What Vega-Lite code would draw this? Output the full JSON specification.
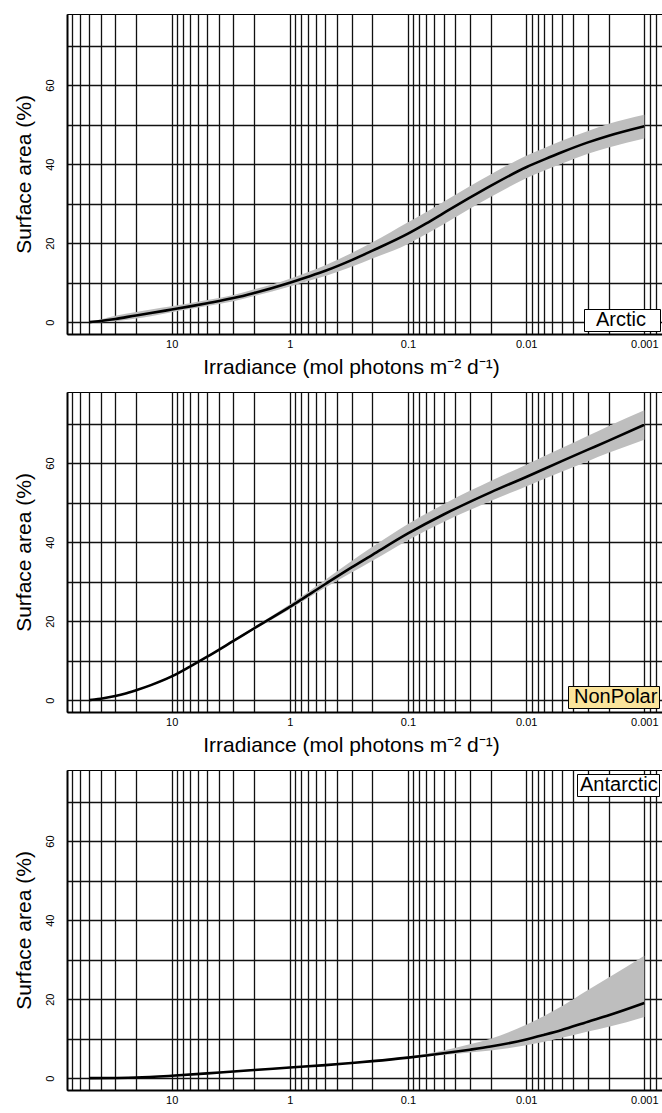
{
  "$schema": "https://vega.github.io/schema/vega-lite/v6.json",
  "padding": {"left": 12, "top": 13, "right": 0, "bottom": 0},
  "spacing": 58,
  "bounds": "flush",
  "resolve": {"scale": {"color": "independent"}, "legend": {"color": "independent"}},
  "config": {
    "font": "Liberation Sans",
    "view": {"stroke": "black", "strokeWidth": 1},
    "axis": {
      "domainColor": "black", "domainWidth": 2, "grid": true, "gridColor": "#111111",
      "gridOpacity": 1, "gridWidth": 1.3, "ticks": false, "tickSize": 0,
      "labelColor": "black", "labelFontSize": 11, "titleFontSize": 21,
      "titleFontWeight": "normal", "titleColor": "black",
      "labelFont": "Liberation Sans", "titleFont": "Liberation Sans"
    },
    "legend": {
      "title": null, "strokeColor": "black", "fillColor": "white", "padding": 1,
      "symbolType": "square", "symbolSize": 0, "symbolOpacity": 0, "symbolStrokeWidth": 0,
      "labelFontSize": 20, "labelColor": "black", "labelFont": "Liberation Sans",
      "offset": 3
    }
  },
  "datasets": {
    "curves": [
      {"region": "Arctic", "irr": 50, "mean": 0, "lo": 0, "hi": 0.2},
      {"region": "Arctic", "irr": 40, "mean": 0.3, "lo": 0, "hi": 0.7},
      {"region": "Arctic", "irr": 30, "mean": 0.8, "lo": 0.2, "hi": 1.6},
      {"region": "Arctic", "irr": 20, "mean": 1.7, "lo": 0.9, "hi": 2.6},
      {"region": "Arctic", "irr": 15, "mean": 2.3, "lo": 1.5, "hi": 3.2},
      {"region": "Arctic", "irr": 10, "mean": 3.2, "lo": 2.5, "hi": 4.0},
      {"region": "Arctic", "irr": 7, "mean": 4.0, "lo": 3.3, "hi": 4.8},
      {"region": "Arctic", "irr": 5, "mean": 4.8, "lo": 4.1, "hi": 5.6},
      {"region": "Arctic", "irr": 3, "mean": 6.1, "lo": 5.3, "hi": 6.9},
      {"region": "Arctic", "irr": 2, "mean": 7.4, "lo": 6.6, "hi": 8.3},
      {"region": "Arctic", "irr": 1, "mean": 10.0, "lo": 9.0, "hi": 11.0},
      {"region": "Arctic", "irr": 0.7, "mean": 11.5, "lo": 10.4, "hi": 12.7},
      {"region": "Arctic", "irr": 0.5, "mean": 13.0, "lo": 11.7, "hi": 14.4},
      {"region": "Arctic", "irr": 0.3, "mean": 15.7, "lo": 14.0, "hi": 17.5},
      {"region": "Arctic", "irr": 0.2, "mean": 18.1, "lo": 16.1, "hi": 20.2},
      {"region": "Arctic", "irr": 0.1, "mean": 22.4, "lo": 19.8, "hi": 25.3},
      {"region": "Arctic", "irr": 0.07, "mean": 25.0, "lo": 22.3, "hi": 27.9},
      {"region": "Arctic", "irr": 0.05, "mean": 27.6, "lo": 24.8, "hi": 30.5},
      {"region": "Arctic", "irr": 0.03, "mean": 31.5, "lo": 28.7, "hi": 34.4},
      {"region": "Arctic", "irr": 0.02, "mean": 34.5, "lo": 31.7, "hi": 37.4},
      {"region": "Arctic", "irr": 0.01, "mean": 39.2, "lo": 36.4, "hi": 42.1},
      {"region": "Arctic", "irr": 0.007, "mean": 41.2, "lo": 38.4, "hi": 44.1},
      {"region": "Arctic", "irr": 0.005, "mean": 43.0, "lo": 40.1, "hi": 45.9},
      {"region": "Arctic", "irr": 0.003, "mean": 45.5, "lo": 42.6, "hi": 48.4},
      {"region": "Arctic", "irr": 0.002, "mean": 47.2, "lo": 44.2, "hi": 50.2},
      {"region": "Arctic", "irr": 0.001, "mean": 49.6, "lo": 46.5, "hi": 52.5},

      {"region": "NonPolar", "irr": 50, "mean": 0, "lo": 0, "hi": 0},
      {"region": "NonPolar", "irr": 45, "mean": 0.15, "lo": 0.1, "hi": 0.2},
      {"region": "NonPolar", "irr": 40, "mean": 0.35, "lo": 0.3, "hi": 0.4},
      {"region": "NonPolar", "irr": 35, "mean": 0.65, "lo": 0.6, "hi": 0.7},
      {"region": "NonPolar", "irr": 30, "mean": 1.05, "lo": 1.0, "hi": 1.1},
      {"region": "NonPolar", "irr": 25, "mean": 1.6, "lo": 1.5, "hi": 1.7},
      {"region": "NonPolar", "irr": 20, "mean": 2.5, "lo": 2.4, "hi": 2.6},
      {"region": "NonPolar", "irr": 15, "mean": 3.8, "lo": 3.6, "hi": 4.0},
      {"region": "NonPolar", "irr": 10, "mean": 6.0, "lo": 5.8, "hi": 6.2},
      {"region": "NonPolar", "irr": 7, "mean": 8.5, "lo": 8.3, "hi": 8.7},
      {"region": "NonPolar", "irr": 5, "mean": 11.0, "lo": 10.8, "hi": 11.2},
      {"region": "NonPolar", "irr": 3, "mean": 15.0, "lo": 14.7, "hi": 15.3},
      {"region": "NonPolar", "irr": 2, "mean": 18.2, "lo": 17.8, "hi": 18.6},
      {"region": "NonPolar", "irr": 1, "mean": 23.6, "lo": 23.0, "hi": 24.3},
      {"region": "NonPolar", "irr": 0.5, "mean": 29.4, "lo": 28.5, "hi": 30.5},
      {"region": "NonPolar", "irr": 0.3, "mean": 33.6, "lo": 32.3, "hi": 35.2},
      {"region": "NonPolar", "irr": 0.2, "mean": 36.8, "lo": 35.3, "hi": 38.8},
      {"region": "NonPolar", "irr": 0.1, "mean": 42.2, "lo": 40.5, "hi": 44.6},
      {"region": "NonPolar", "irr": 0.05, "mean": 47.0, "lo": 45.1, "hi": 49.6},
      {"region": "NonPolar", "irr": 0.03, "mean": 50.2, "lo": 48.1, "hi": 53.0},
      {"region": "NonPolar", "irr": 0.02, "mean": 52.6, "lo": 50.4, "hi": 55.5},
      {"region": "NonPolar", "irr": 0.01, "mean": 56.5, "lo": 54.1, "hi": 59.6},
      {"region": "NonPolar", "irr": 0.005, "mean": 60.5, "lo": 57.8, "hi": 63.8},
      {"region": "NonPolar", "irr": 0.003, "mean": 63.4, "lo": 60.5, "hi": 66.9},
      {"region": "NonPolar", "irr": 0.002, "mean": 65.7, "lo": 62.6, "hi": 69.4},
      {"region": "NonPolar", "irr": 0.001, "mean": 69.7, "lo": 65.9, "hi": 73.4},

      {"region": "Antarctic", "irr": 50, "mean": 0, "lo": 0, "hi": 0},
      {"region": "Antarctic", "irr": 30, "mean": 0.05, "lo": 0, "hi": 0.1},
      {"region": "Antarctic", "irr": 20, "mean": 0.15, "lo": 0.05, "hi": 0.25},
      {"region": "Antarctic", "irr": 10, "mean": 0.6, "lo": 0.4, "hi": 0.8},
      {"region": "Antarctic", "irr": 5, "mean": 1.2, "lo": 1.0, "hi": 1.4},
      {"region": "Antarctic", "irr": 3, "mean": 1.7, "lo": 1.5, "hi": 1.9},
      {"region": "Antarctic", "irr": 2, "mean": 2.05, "lo": 1.85, "hi": 2.25},
      {"region": "Antarctic", "irr": 1, "mean": 2.7, "lo": 2.5, "hi": 2.9},
      {"region": "Antarctic", "irr": 0.5, "mean": 3.3, "lo": 3.1, "hi": 3.5},
      {"region": "Antarctic", "irr": 0.3, "mean": 3.85, "lo": 3.65, "hi": 4.05},
      {"region": "Antarctic", "irr": 0.2, "mean": 4.3, "lo": 4.1, "hi": 4.55},
      {"region": "Antarctic", "irr": 0.1, "mean": 5.2, "lo": 5.0, "hi": 5.5},
      {"region": "Antarctic", "irr": 0.07, "mean": 5.75, "lo": 5.45, "hi": 6.2},
      {"region": "Antarctic", "irr": 0.05, "mean": 6.3, "lo": 5.85, "hi": 7.0},
      {"region": "Antarctic", "irr": 0.03, "mean": 7.2, "lo": 6.5, "hi": 8.6},
      {"region": "Antarctic", "irr": 0.02, "mean": 8.0, "lo": 7.0, "hi": 10.0},
      {"region": "Antarctic", "irr": 0.01, "mean": 9.8, "lo": 8.3, "hi": 13.5},
      {"region": "Antarctic", "irr": 0.007, "mean": 11.0, "lo": 9.2, "hi": 15.8},
      {"region": "Antarctic", "irr": 0.005, "mean": 12.2, "lo": 10.2, "hi": 18.2},
      {"region": "Antarctic", "irr": 0.003, "mean": 14.3, "lo": 11.8, "hi": 22.3},
      {"region": "Antarctic", "irr": 0.002, "mean": 15.9, "lo": 13.0, "hi": 25.5},
      {"region": "Antarctic", "irr": 0.001, "mean": 19.0, "lo": 15.5, "hi": 31.0}
    ]
  },
  "vconcat": [
    {
      "width": 596, "height": 320,
      "data": {"name": "curves"},
      "transform": [{"filter": "datum.region === 'Arctic'"}],
      "layer": [
        {
          "mark": {"type": "area", "color": "#BEBEBE", "interpolate": "monotone"},
          "encoding": {
            "x": {"field": "irr", "type": "quantitative",
              "scale": {"type": "log", "domain": [0.000695, 76.9], "reverse": true, "nice": false},
              "axis": {"title": "Irradiance (mol photons m\u207b\u00b2 d\u207b\u00b9)", "format": "~g",
                "values": [0.0007,0.0008,0.0009,0.001,0.002,0.003,0.004,0.005,0.006,0.007,0.008,0.009,0.01,0.02,0.03,0.04,0.05,0.06,0.07,0.08,0.09,0.1,0.2,0.3,0.4,0.5,0.6,0.7,0.8,0.9,1,2,3,4,5,6,7,8,9,10,20,30,40,50,60,70],
                "labelExpr": "indexof([10,1,0.1,0.01,0.001], datum.value) >= 0 ? datum.label : ''",
                "labelPadding": 4, "titlePadding": 7, "titleX": 284, "labelFlush": false, "labelOverlap": false}},
            "y": {"field": "lo", "type": "quantitative",
              "scale": {"domain": [-3, 78], "nice": false, "zero": false},
              "axis": {"title": "Surface area (%)", "values": [0,5,10,15,20,25,30,35,40,45,50,55,60,65,70,75],
                "labelExpr": "datum.value % 20 === 0 ? datum.label : ''", "labelAngle": -90,
                "labelPadding": 12, "titlePadding": 10, "labelOverlap": false}},
            "y2": {"field": "hi"}
          }
        },
        {
          "mark": {"type": "line", "strokeWidth": 2.6, "interpolate": "monotone"},
          "encoding": {
            "x": {"field": "irr", "type": "quantitative"},
            "y": {"field": "mean", "type": "quantitative"},
            "color": {"field": "region", "type": "nominal", "scale": {"range": ["black"]},
              "legend": {"orient": "bottom-right", "values": ["Arctic", "_"], "columns": 2, "columnPadding": 2,
                "labelOffset": -9, "labelExpr": "datum.value === 'Arctic' ? datum.label : ''"}}
          }
        }
      ]
    },
    {
      "width": 596, "height": 320,
      "data": {"name": "curves"},
      "transform": [{"filter": "datum.region === 'NonPolar'"}],
      "layer": [
        {
          "mark": {"type": "area", "color": "#BEBEBE", "interpolate": "monotone"},
          "encoding": {
            "x": {"field": "irr", "type": "quantitative",
              "scale": {"type": "log", "domain": [0.000695, 76.9], "reverse": true, "nice": false},
              "axis": {"title": "Irradiance (mol photons m\u207b\u00b2 d\u207b\u00b9)", "format": "~g",
                "values": [0.0007,0.0008,0.0009,0.001,0.002,0.003,0.004,0.005,0.006,0.007,0.008,0.009,0.01,0.02,0.03,0.04,0.05,0.06,0.07,0.08,0.09,0.1,0.2,0.3,0.4,0.5,0.6,0.7,0.8,0.9,1,2,3,4,5,6,7,8,9,10,20,30,40,50,60,70],
                "labelExpr": "indexof([10,1,0.1,0.01,0.001], datum.value) >= 0 ? datum.label : ''",
                "labelPadding": 4, "titlePadding": 7, "titleX": 284, "labelFlush": false, "labelOverlap": false}},
            "y": {"field": "lo", "type": "quantitative",
              "scale": {"domain": [-3, 78], "nice": false, "zero": false},
              "axis": {"title": "Surface area (%)", "values": [0,5,10,15,20,25,30,35,40,45,50,55,60,65,70,75],
                "labelExpr": "datum.value % 20 === 0 ? datum.label : ''", "labelAngle": -90,
                "labelPadding": 12, "titlePadding": 10, "labelOverlap": false}},
            "y2": {"field": "hi"}
          }
        },
        {
          "mark": {"type": "line", "strokeWidth": 2.6, "interpolate": "monotone"},
          "encoding": {
            "x": {"field": "irr", "type": "quantitative"},
            "y": {"field": "mean", "type": "quantitative"},
            "color": {"field": "region", "type": "nominal", "scale": {"range": ["black"]},
              "legend": {"orient": "bottom-right", "fillColor": "#FAE49C", "labelOffset": -15, "offset": 4}}
          }
        }
      ]
    },
    {
      "width": 596, "height": 320,
      "data": {"name": "curves"},
      "transform": [{"filter": "datum.region === 'Antarctic'"}],
      "layer": [
        {
          "mark": {"type": "area", "color": "#BEBEBE", "interpolate": "monotone"},
          "encoding": {
            "x": {"field": "irr", "type": "quantitative",
              "scale": {"type": "log", "domain": [0.000695, 76.9], "reverse": true, "nice": false},
              "axis": {"title": null, "format": "~g",
                "values": [0.0007,0.0008,0.0009,0.001,0.002,0.003,0.004,0.005,0.006,0.007,0.008,0.009,0.01,0.02,0.03,0.04,0.05,0.06,0.07,0.08,0.09,0.1,0.2,0.3,0.4,0.5,0.6,0.7,0.8,0.9,1,2,3,4,5,6,7,8,9,10,20,30,40,50,60,70],
                "labelExpr": "indexof([10,1,0.1,0.01,0.001], datum.value) >= 0 ? datum.label : ''",
                "labelPadding": 4, "labelFlush": false, "labelOverlap": false}},
            "y": {"field": "lo", "type": "quantitative",
              "scale": {"domain": [-3, 78], "nice": false, "zero": false},
              "axis": {"title": "Surface area (%)", "values": [0,5,10,15,20,25,30,35,40,45,50,55,60,65,70,75],
                "labelExpr": "datum.value % 20 === 0 ? datum.label : ''", "labelAngle": -90,
                "labelPadding": 12, "titlePadding": 10, "labelOverlap": false}},
            "y2": {"field": "hi"}
          }
        },
        {
          "mark": {"type": "line", "strokeWidth": 2.6, "interpolate": "monotone"},
          "encoding": {
            "x": {"field": "irr", "type": "quantitative"},
            "y": {"field": "mean", "type": "quantitative"},
            "color": {"field": "region", "type": "nominal", "scale": {"range": ["black"]},
              "legend": {"orient": "top-right", "labelOffset": -18, "offset": 4}}
          }
        }
      ]
    }
  ]
}
